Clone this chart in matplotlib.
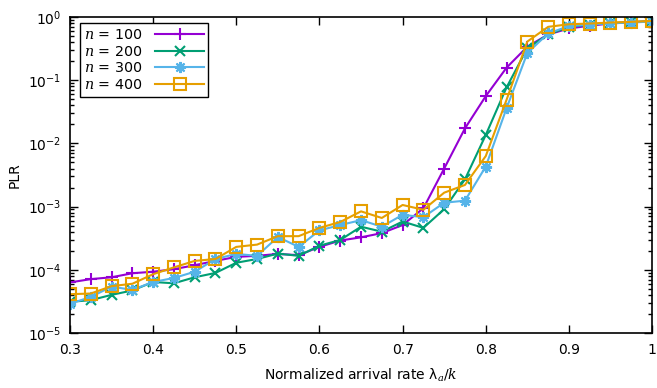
import math
import matplotlib
matplotlib.use('Agg')
import matplotlib.pyplot as plt
from matplotlib.ticker import FixedLocator, LogLocator, NullFormatter, FuncFormatter

plt.rcParams['mathtext.fontset'] = 'custom'
plt.rcParams['mathtext.rm'] = 'DejaVu Sans'
plt.rcParams['mathtext.it'] = 'DejaVu Serif:italic'

# arrival rate grid
rate = [0.3, 0.325, 0.35, 0.375, 0.4, 0.425, 0.45, 0.475, 0.5, 0.525,
        0.55, 0.575, 0.6, 0.625, 0.65, 0.675, 0.7, 0.725, 0.75, 0.775,
        0.8, 0.825, 0.85, 0.875, 0.9, 0.925, 0.95, 0.975, 1.0]

plr_100 = [6.3e-5, 7.1e-5, 7.6e-5, 8.8e-5, 9.3e-5, 1.02e-4, 1.18e-4, 1.38e-4, 1.6e-4, 1.66e-4,
           1.78e-4, 1.7e-4, 2.3e-4, 2.9e-4, 3.26e-4, 3.8e-4, 5.1e-4, 9.4e-4, 4.0e-3, 1.73e-2,
           5.6e-2, 0.158, 0.34, 0.53, 0.66, 0.73, 0.79, 0.83, 0.86]
plr_200 = [3.1e-5, 3.3e-5, 4.0e-5, 4.7e-5, 6.4e-5, 6.1e-5, 7.6e-5, 8.9e-5, 1.29e-4, 1.48e-4,
           1.8e-4, 1.66e-4, 2.4e-4, 2.96e-4, 4.8e-4, 4.0e-4, 5.8e-4, 4.6e-4, 9.1e-4, 2.7e-3,
           1.36e-2, 7.7e-2, 0.32, 0.53, 0.7, 0.76, 0.8, 0.83, 0.86]
plr_300 = [2.9e-5, 3.7e-5, 5.4e-5, 4.8e-5, 6.4e-5, 7.4e-5, 9.3e-5, 1.48e-4, 1.78e-4, 1.66e-4,
           3.3e-4, 2.3e-4, 4.2e-4, 5.1e-4, 6.1e-4, 4.8e-4, 7.4e-4, 6.8e-4, 1.15e-3, 1.24e-3,
           4.3e-3, 3.6e-2, 0.27, 0.55, 0.72, 0.76, 0.8, 0.82, 0.85]
plr_400 = [4.1e-5, 4.2e-5, 5.5e-5, 6.0e-5, 8.5e-5, 1.09e-4, 1.38e-4, 1.48e-4, 2.3e-4, 2.5e-4,
           3.4e-4, 3.4e-4, 4.6e-4, 5.7e-4, 8.4e-4, 6.6e-4, 1.06e-3, 8.9e-4, 1.66e-3, 2.2e-3,
           6.3e-3, 4.9e-2, 0.41, 0.70, 0.77, 0.79, 0.82, 0.84, 0.87]

labels = [r'$n$ = 100', r'$n$ = 200', r'$n$ = 300', r'$n$ = 400']
colors = ['#9400d3', '#009e73', '#56b4e9', '#e69f00']

fig = plt.figure(figsize=(6.57, 3.88), dpi=100)
ax = fig.add_axes([0.1065, 0.142, 0.886, 0.814])

ax.plot(rate, plr_100, color=colors[0], marker='+', markersize=8, mew=1.5, lw=1.5, label=labels[0])
ax.plot(rate, plr_200, color=colors[1], marker='x', markersize=7, mew=1.5, lw=1.5, label=labels[1])
ax.plot(rate, plr_300, color=colors[2], marker=(8, 2, 0), markersize=8, mew=1.5, lw=1.5, label=labels[2])
ax.plot(rate, plr_400, color=colors[3], marker='s', markersize=8, mew=1.5, mfc='none', lw=1.5, label=labels[3])

ax.set_yscale('log')
ax.set_xlim(0.3, 1.0)
ax.set_ylim(1e-5, 1)
ax.xaxis.set_major_locator(FixedLocator([0.3, 0.4, 0.5, 0.6, 0.7, 0.8, 0.9, 1.0]))
ax.xaxis.set_major_formatter(FuncFormatter(lambda v, p: '1' if abs(v - 1) < 1e-9 else '%.1f' % v))
ax.yaxis.set_major_locator(LogLocator(base=10, numticks=10))
ax.yaxis.set_minor_locator(LogLocator(base=10, subs=range(2, 10), numticks=20))
ax.yaxis.set_minor_formatter(NullFormatter())
ax.yaxis.set_major_formatter(FuncFormatter(lambda v, p: r'$10^{%d}$' % round(math.log10(v))))

ax.tick_params(which='both', direction='in', top=True, right=True, labelsize=10)
ax.tick_params(which='major', length=6, width=1)
ax.tick_params(which='minor', length=3, width=1)
ax.tick_params(axis='x', pad=7)
ax.tick_params(axis='y', pad=6)
for s in ax.spines.values():
    s.set_linewidth(1.2)

ax.set_xlabel(r'Normalized arrival rate λ$_{a}$/$k$', fontsize=10, labelpad=7)
ax.set_ylabel('PLR', fontsize=10, labelpad=5)

leg = ax.legend(loc='upper left', fontsize=10.3, markerfirst=False, fancybox=False,
                edgecolor='black', framealpha=1, handlelength=3.4, borderpad=0.3,
                labelspacing=0.2, handletextpad=0.9, borderaxespad=0,
                bbox_to_anchor=(0.017, 0.98))
leg.get_frame().set_linewidth(1.0)

fig.savefig('out.png', dpi=100)
